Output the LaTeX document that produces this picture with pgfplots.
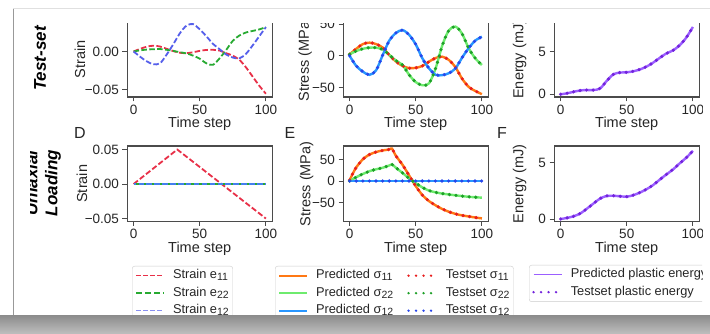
\documentclass[border=0pt]{standalone}
\usepackage{pgfplots}
\pgfplotsset{compat=1.18}
\usepackage{pgfplotstable}
\usepackage{fontspec}
\setmainfont{Liberation Sans}

\definecolor{eOne}{RGB}{232,48,72}
\definecolor{eTwo}{RGB}{40,170,50}
\definecolor{eThr}{RGB}{85,95,235}
\definecolor{pOne}{RGB}{255,120,20}
\definecolor{pTwo}{RGB}{110,235,110}
\definecolor{pThr}{RGB}{40,150,255}
\definecolor{tOne}{RGB}{232,30,30}
\definecolor{tTwo}{RGB}{30,160,40}
\definecolor{tThr}{RGB}{40,70,235}
\definecolor{pEn}{RGB}{155,95,255}
\definecolor{tEn}{RGB}{115,35,220}
\definecolor{spinegray}{RGB}{75,75,75}

\newcommand{\sub}[1]{\raisebox{-0.28ex}{\fontsize{10.5}{11}\selectfont #1}}

\pgfplotstableread{
t e11 e22 e12
0 0 0 0
5 0.0035 0.0015 -0.007
10 0.0063 0.0025 -0.013
15 0.0076 0.003 -0.0168
20 0.0065 0.0032 -0.0155
25 0.0035 0.0022 -0.004
30 0.0005 0.0008 0.0095
35 -0.0017 -0.001 0.024
40 -0.0022 -0.0025 0.034
45 -0.001 -0.0055 0.036
50 0.0008 -0.0095 0.029
55 0.002 -0.0155 0.020
60 0.0022 -0.0175 0.010
65 0.0012 -0.009 0.003
70 -0.0023 0.002 -0.004
75 -0.0055 0.014 -0.008
80 -0.011 0.021 -0.009
85 -0.021 0.025 -0.003
90 -0.033 0.027 0.008
95 -0.045 0.029 0.020
100 -0.0555 0.032 0.032
}\tabA

\pgfplotstableread{
t s11 s22 s12
0 2.3 2.3 0
5 11 7.5 -16
10 18.5 11 -25
15 20.7 12.8 -30
20 18.5 12.8 -23
25 13 10 1
30 1 1.5 24
35 -9 -7.5 36
40 -16 -14.5 40.5
45 -19.5 -30 33
50 -19 -41.5 18
55 -16 -46.5 -4
60 -9.3 -43.5 -19.7
65 -3.5 -20 -30
70 -1.4 16 -30.5
75 -6.5 40 -27.5
80 -18 46 -20
85 -36 35 -3
90 -49 12 12
95 -55.5 -4 24
100 -60.5 -14.5 30
}\tabB

\pgfplotstableread{
t s11 s22 s12
0 2 0 0
2.5 18 4.5 0
5 32 9 0
10 51 16.5 0
15 62 23 0
20 68 27.5 0
25 71.5 31 0
30 74 36.5 0
32 76 39 0
35 59 31 0
40 38 19 0
45 13 6 0
50 -12 -5 0
55 -33 -15 0
60 -47 -22.5 0
65 -57 -26.5 0
70 -65.5 -29.5 0
75 -72 -31.5 0
80 -77 -33.5 0
85 -80.5 -35.3 0
90 -83 -37 0
95 -85.5 -38 0
100 -87.5 -39 0
}\tabE

\pgfplotstableread{
t C F
0 0 0
5 0.12 0.1
10 0.3 0.25
15 0.45 0.5
20 0.5 0.93
25 0.5 1.39
30 0.7 1.83
35 1.6 2.05
40 2.35 2.06
45 2.55 2.02
50 2.58 1.98
55 2.7 2.12
60 2.92 2.35
65 3.25 2.65
70 3.72 3.02
75 4.28 3.5
80 4.8 3.96
85 5.15 4.4
90 5.75 4.94
95 6.65 5.44
100 7.9 6.05
}\tabCF

\pgfplotstableread{
t e11 e22 e12
0 0 0 0
33 0.05 0 0
100 -0.05 0 0
}\tabD

\pgfplotsset{
  panel/.style={
    scale only axis, width=145.5pt, height=75.5pt,
    anchor=south west,
    xmin=-5, xmax=105, xtick={0,50,100}, xticklabels={0,50,100},
    scaled y ticks=false, scaled x ticks=false,
    xtick pos=bottom, ytick pos=left, tick align=outside, major tick length=4.5pt,
    axis line style={draw=spinegray, line width=0.9pt},
    tick style={draw=spinegray, line width=0.9pt},
    tick label style={font=\fontsize{13.5}{15}\selectfont, text=black!85},
    label style={font=\fontsize{14.5}{16}\selectfont, text=black!85},
    xlabel={Time step},
    xlabel style={at={(axis description cs:0.5,-0.355)}, anchor=center},
  },
  strain/.style={line width=1.8pt, dash pattern=on 5.5pt off 2.4pt},
  pred/.style={line width=2.4pt, smooth},
  test/.style={line width=3.6pt, line cap=round, dash pattern=on 0pt off 6.6pt, smooth},
  legbox/.style={
    hide axis, scale only axis, width=1pt, height=1pt,
    xmin=0, xmax=1, ymin=0, ymax=1, anchor=north west,
    legend cell align=left,
    legend style={at={(0,1)}, anchor=north west, draw=black!20,
      rounded corners=2.5pt, fill=white,
      font=\fontsize{12.8}{14}\selectfont, text=black!85,
      inner xsep=3pt, inner ysep=2pt, row sep=2.5pt, column sep=7pt,
      nodes={inner sep=1pt, text height=9.5pt, text depth=3.5pt},
      /tikz/every even column/.append style={column sep=13pt}},
  },
}
\pgfplotsset{legend image code/.code={\draw[#1] (0pt,0pt) -- (28pt,0pt);}}

\begin{document}
\begin{tikzpicture}[x=1pt,y=1pt]
\useasboundingbox (0,0) rectangle (710,334);
\fill[white] (0,0) rectangle (710,334);
\draw[black!40, line width=1.5pt] (13.5,17) -- (13.5,325);
\draw[black!12, line width=1pt] (13,325) -- (710,325);
\shade[top color=black!45, bottom color=black!25] (0,0) rectangle (710,18.5);

\begin{scope}
\clip (30,19) rectangle (702,310);

% panel frames
\draw[draw=spinegray, line width=1pt] (127,237) rectangle (272.5,312.5);
\draw[draw=spinegray, line width=1pt] (343,237) rectangle (488.5,312.5);
\draw[draw=spinegray, line width=1pt] (554,237) rectangle (699.5,312.5);
\draw[draw=spinegray, line width=1pt] (127,112.5) rectangle (272.5,188);
\draw[draw=spinegray, line width=1pt] (343,112.5) rectangle (488.5,188);
\draw[draw=spinegray, line width=1pt] (554,112.5) rectangle (699.5,188);

% Row labels
\node[rotate=90, font=\fontsize{17}{20}\selectfont\bfseries\itshape] at (40,275.5) {Test-set};
\node[rotate=90, align=center, font=\fontsize{17}{20}\selectfont\bfseries\itshape] at (43,151) {Uniaxial\\Loading};

% Panel letters
\node[font=\fontsize{16}{18}\selectfont, text=black!85] at (80,201) {D};
\node[font=\fontsize{16}{18}\selectfont, text=black!85] at (290,201) {E};
\node[font=\fontsize{16}{18}\selectfont, text=black!85] at (502,201) {F};

% A
\begin{axis}[panel, at={(127pt,237pt)}, ymin=-0.0598, ymax=0.0394,
  ytick={-0.05,0,0.05}, yticklabels={−0.05,0.00,0.05},
  ylabel={Strain}, ylabel style={at={(axis description cs:-0.323,0.5)}, anchor=center}]
\addplot[strain, eOne, smooth] table[x=t,y=e11]{\tabA};
\addplot[strain, eTwo, smooth] table[x=t,y=e22]{\tabA};
\addplot[strain, eThr, smooth] table[x=t,y=e12]{\tabA};
\end{axis}

% B
\begin{axis}[panel, at={(343pt,237pt)}, ymin=-65, ymax=54.1,
  ytick={-50,0,50}, yticklabels={−50,0,50},
  ylabel={Stress (MPa)}, ylabel style={at={(axis description cs:-0.261,0.5)}, anchor=center}]
\addplot[pred, pOne] table[x=t,y=s11]{\tabB};
\addplot[pred, pTwo] table[x=t,y=s22]{\tabB};
\addplot[pred, pThr] table[x=t,y=s12]{\tabB};
\addplot[test, tOne] table[x=t,y=s11]{\tabB};
\addplot[test, tTwo] table[x=t,y=s22]{\tabB};
\addplot[test, tThr] table[x=t,y=s12]{\tabB};
\end{axis}

% C
\begin{axis}[panel, at={(554pt,237pt)}, ymin=-0.317, ymax=8.54,
  ytick={0,5}, yticklabels={0,5},
  ylabel={Energy (mJ)}, ylabel style={at={(axis description cs:-0.237,0.5)}, anchor=center}]
\addplot[pred, pEn] table[x=t,y=C]{\tabCF};
\addplot[test, tEn] table[x=t,y=C]{\tabCF};
\end{axis}

% D
\begin{axis}[panel, at={(127pt,112.5pt)}, ymin=-0.0543, ymax=0.0551,
  ytick={-0.05,0,0.05}, yticklabels={−0.05,0.00,0.05},
  ylabel={Strain}, ylabel style={at={(axis description cs:-0.309,0.5)}, anchor=center}]
\addplot[strain, eOne] table[x=t,y=e11]{\tabD};
\addplot[strain, eTwo] table[x=t,y=e22]{\tabD};
\addplot[strain, eThr!80!cyan, dash phase=3pt] table[x=t,y=e12]{\tabD};
\end{axis}

% E
\begin{axis}[panel, at={(343pt,112.5pt)}, ymin=-94.8, ymax=82,
  ytick={-50,0,50}, yticklabels={−50,0,50},
  ylabel={Stress (MPa)}, ylabel style={at={(axis description cs:-0.25,0.5)}, anchor=center}]
\addplot[pred, pOne, tension=0.4] table[x=t,y=s11]{\tabE};
\addplot[pred, pTwo, tension=0.4] table[x=t,y=s22]{\tabE};
\addplot[pred, pThr] table[x=t,y=s12]{\tabE};
\addplot[test, tOne, tension=0.4] table[x=t,y=s11]{\tabE};
\addplot[test, tTwo, tension=0.4] table[x=t,y=s22]{\tabE};
\addplot[test, tThr] table[x=t,y=s12]{\tabE};
\end{axis}

% F
\begin{axis}[panel, at={(554pt,112.5pt)}, ymin=-0.22, ymax=6.48,
  ytick={0,5}, yticklabels={0,5},
  ylabel={Energy (mJ)}, ylabel style={at={(axis description cs:-0.237,0.5)}, anchor=center}]
\addplot[pred, pEn] table[x=t,y=F]{\tabCF};
\addplot[test, tEn] table[x=t,y=F]{\tabCF};
\end{axis}

% Legends
\begin{axis}[legbox, at={(132pt,68pt)}]
\addlegendimage{draw=eOne, line width=1.6pt, dash pattern=on 4.5pt off 2.5pt}
\addlegendentry{Strain e\sub{11}}
\addlegendimage{draw=eTwo, line width=1.8pt, dash pattern=on 6pt off 3pt}
\addlegendentry{Strain e\sub{22}}
\addlegendimage{draw=eThr!70!white, line width=1.5pt, dash pattern=on 4.5pt off 2.5pt}
\addlegendentry{Strain e\sub{12}}
\end{axis}

\begin{axis}[legbox, at={(275pt,68pt)}, legend columns=2]
\addlegendimage{draw=pOne, line width=1.8pt}
\addlegendentry{Predicted σ\sub{11}}
\addlegendimage{draw=tOne, line width=2.6pt, line cap=round, dash pattern=on 0pt off 7.5pt}
\addlegendentry{Testset σ\sub{11}}
\addlegendimage{draw=pTwo, line width=1.8pt}
\addlegendentry{Predicted σ\sub{22}}
\addlegendimage{draw=tTwo, line width=2.6pt, line cap=round, dash pattern=on 0pt off 7.5pt}
\addlegendentry{Testset σ\sub{22}}
\addlegendimage{draw=pThr, line width=1.8pt}
\addlegendentry{Predicted σ\sub{12}}
\addlegendimage{draw=tThr, line width=2.6pt, line cap=round, dash pattern=on 0pt off 7.5pt}
\addlegendentry{Testset σ\sub{12}}
\end{axis}

\begin{axis}[legbox, at={(529pt,69pt)}]
\addlegendimage{draw=pEn, line width=1.4pt}
\addlegendentry{Predicted plastic energy}
\addlegendimage{draw=tEn, line width=2.6pt, line cap=round, dash pattern=on 0pt off 7.5pt}
\addlegendentry{Testset plastic energy}
\end{axis}

\end{scope}
\end{tikzpicture}
\end{document}
